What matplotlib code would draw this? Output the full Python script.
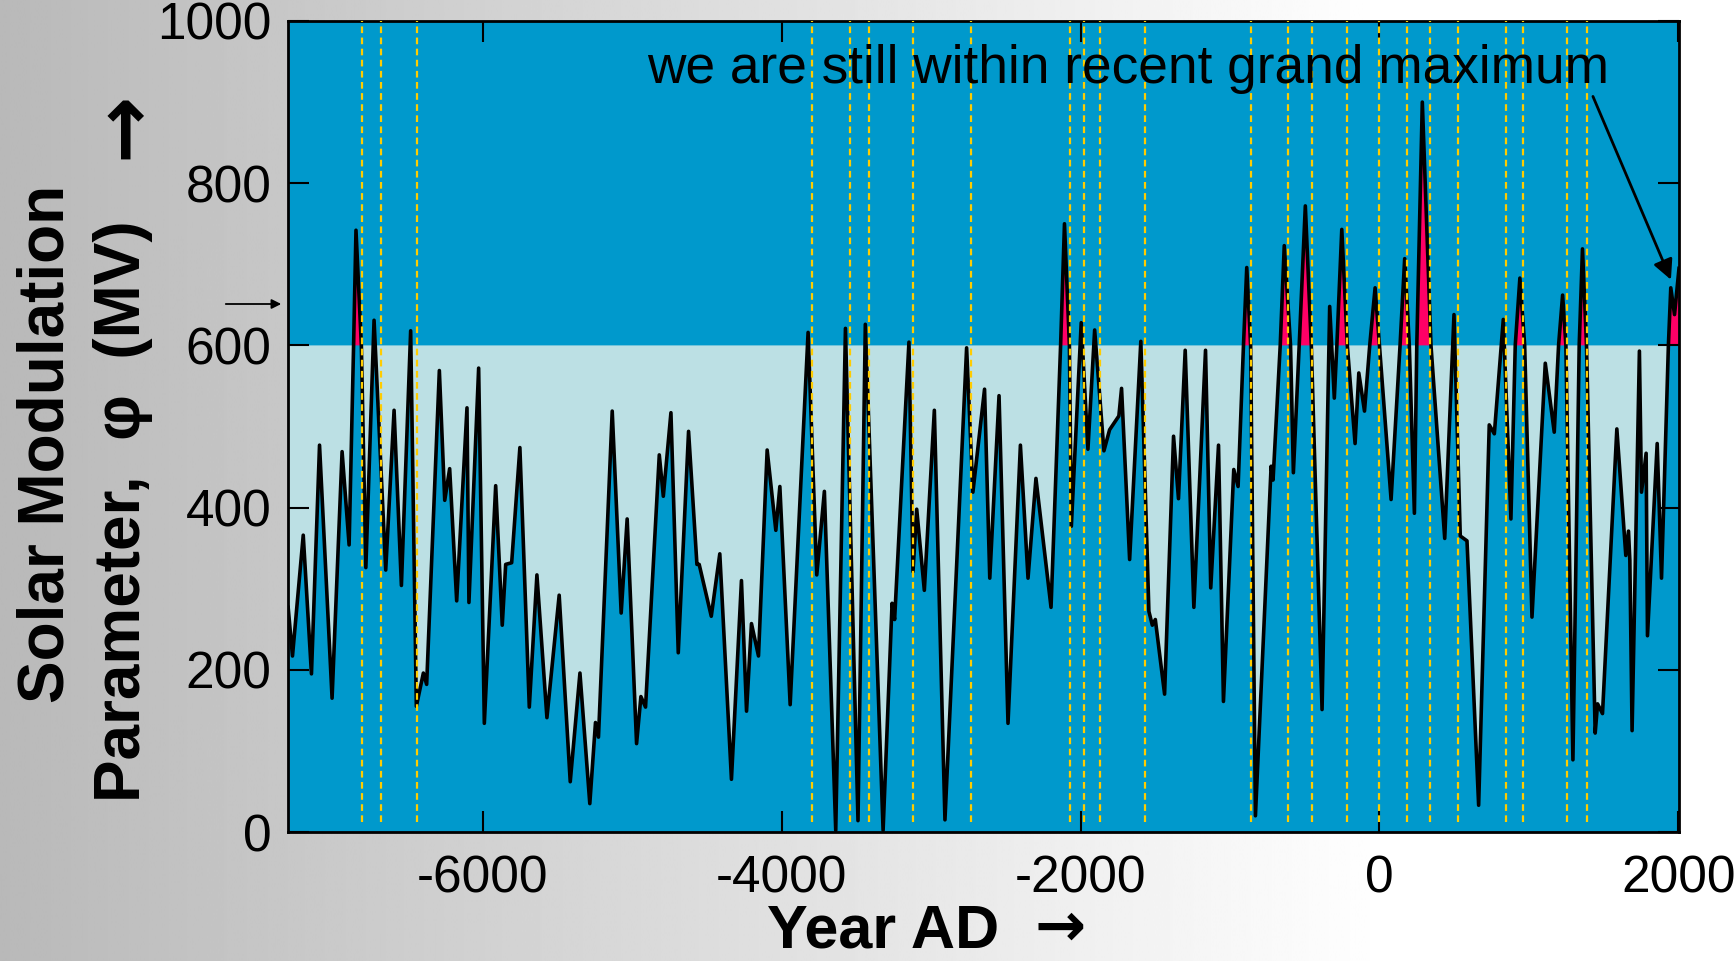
import numpy as np
import matplotlib
matplotlib.use("Agg")
import matplotlib.pyplot as plt
from matplotlib.patches import FancyArrowPatch

plt.rcParams['font.family'] = ['Liberation Sans', 'DejaVu Sans']
plt.rcParams['axes.unicode_minus'] = False

# ---- data (year AD, solar modulation phi in MV) ----
years = [
    -7304, -7275, -7203, -7148, -7094, -7010, -6943, -6896, -6866, -6850,
    -6814, -6784, -6729, -6651, -6595, -6546, -6484, -6446, -6399, -6377,
    -6292, -6256, -6223, -6176, -6107, -6094, -6029, -5991, -5915, -5871,
    -5848, -5808, -5753, -5690, -5639, -5572, -5490, -5416, -5351, -5285,
    -5247, -5227, -5135, -5075, -5035, -4972, -4943, -4912,
    -4820, -4793, -4742, -4693, -4624, -4568, -4553, -4472, -4415, -4337,
    -4270, -4236, -4203, -4156, -4098, -4040, -4013, -3944, -3824, -3766,
    -3715, -3639, -3574, -3490, -3441, -3322, -3262, -3245, -3149, -3122,
    -3097, -3046, -2979, -2908, -2763, -2721, -2643, -2608,
    -2546, -2486, -2403, -2352, -2299, -2198, -2134, -2108, -2075, -2062,
    -1996, -1951, -1906, -1844, -1806, -1744, -1726, -1672, -1597, -1543,
    -1520, -1500, -1438, -1378, -1345, -1300, -1242, -1164, -1129, -1077,
    -1044, -975, -946, -910, -888, -862, -830, -725, -712, -664,
    -637, -595, -576, -537, -496, -456, -384, -333, -302, -285,
    -252, -215,
    -163, -138, -100, -65, -29, 0, 78, 138, 169, 200,
    234, 250, 287, 345, 437, 499, 541, 586, 664, 735,
    769, 829, 880, 909, 940, 972, 1021, 1110, 1170, 1199,
    1226, 1248, 1295, 1337, 1359, 1386, 1444, 1460, 1493, 1589,
    1649, 1667, 1676, 1691, 1740, 1754, 1785, 1794, 1859, 1888,
    1934, 1950, 1975, 2005,
]
phi = [
    277, 217, 366, 195, 477, 165, 469, 354, 600, 742,
    600, 326, 631, 323, 520, 304, 618, 155, 196, 182,
    569, 409, 448, 285, 523, 283, 572, 134, 427, 255,
    330, 332, 474, 154, 317, 141, 292, 62, 196, 35,
    135, 117, 519, 270, 386, 109, 167, 154,
    465, 414, 517, 221, 494, 330, 330, 266, 343, 65,
    310, 149, 257, 217, 471, 372, 426, 157, 616, 317,
    420, 2, 621, 14, 626, 2, 282, 262, 604, 321,
    398, 298, 520, 15, 597, 419, 546, 313,
    538, 134, 477, 313, 436, 277, 600, 750, 600, 377,
    628, 472, 619, 470, 496, 513, 547, 336, 605, 272,
    255, 262, 170, 488, 411, 594, 277, 594, 301, 477,
    161, 447, 426, 600, 696, 600, 20, 451, 434, 600,
    723, 600, 443, 600, 772, 600, 151, 648, 535, 600,
    743, 600,
    479, 566, 519, 600, 671, 600, 410, 600, 707, 600,
    393, 600, 900, 600, 362, 638, 365, 359, 33, 502,
    491, 632, 386, 600, 683, 600, 265, 578, 493, 600,
    662, 600, 89, 600, 719, 600, 122, 158, 146, 497,
    341, 371, 335, 125, 593, 419, 467, 242, 479, 313,
    600, 671, 638, 695,
]
assert len(years) == len(phi)

threshold = 600
dash_years = [-6812, -6680, -6444, -3797, -3545, -3414, -3121, -2736,
              -2072, -1978, -1873, -1568, -862, -612, -454, -215, -1,
              182, 340, 527, 845, 964, 1253, 1387]
xticks = [-6000, -4000, -2000, 0, 2000]
yticks = [0, 200, 400, 600, 800, 1000]

# ---- figure ----
W, H = 1735, 961
fig = plt.figure(figsize=(W / 100, H / 100), dpi=100)

bg = fig.add_axes([0, 0, 1, 1], zorder=0)
bg.set_axis_off()
t = np.linspace(0, 1, 600)
g = np.clip(0.725 + 0.275 * t / 0.8, 0, 1)
bg.imshow(np.tile(g, (2, 1)), cmap='gray', vmin=0, vmax=1, aspect='auto',
          extent=[0, 1, 0, 1])
bg.set_xlim(0, 1)
bg.set_ylim(0, 1)

ax = fig.add_axes([288 / W, 1 - 832 / H, (1679 - 288) / W, (832 - 21) / H], zorder=1)
ax.set_facecolor('#0099CC')

x = np.array(years, dtype=float)
y = np.array(phi, dtype=float)
ax.fill_between(x, y, threshold, where=y <= threshold, interpolate=True,
                color='#BCE0E4', lw=0, zorder=1)
ax.fill_between(x, threshold, y, where=y >= threshold, interpolate=True,
                color='#FF0066', lw=0, zorder=1)
ax.plot(x, y, color='black', lw=2.6, zorder=3, solid_joinstyle='round')
ax.vlines(dash_years, 12, 1000, colors='#FFCC00', linestyles=(0, (3, 2)),
          lw=1.6, zorder=4)

ax.set_xlim(-7305, 2005)
ax.set_ylim(0, 1000)
ax.set_xticks(xticks)
ax.set_yticks(yticks)
ax.tick_params(direction='in', length=15, width=1.5, top=True, right=True,
               labelsize=37)
ax.tick_params(axis='x', pad=16)
ax.tick_params(axis='y', pad=12)
for s in ax.spines.values():
    s.set_linewidth(2)

ax.text(-4900, 924, 'we are still within recent grand maximum', fontsize=38.3,
        ha='left', va='baseline', zorder=6)
ax.annotate('', xy=(1951, 681), xytext=(1429, 907),
            arrowprops=dict(arrowstyle='-|>', color='black', lw=2,
                            mutation_scale=30, shrinkA=0, shrinkB=0),
            zorder=6)

# small arrow pointing at the axis
fig.add_artist(FancyArrowPatch(
    (223 / W, 1 - 304 / H), (284 / W, 1 - 304 / H), transform=fig.transFigure,
    arrowstyle='-|>', mutation_scale=14, lw=1.3, color='black'))

# axis labels
fig.text(64 / W, 1 - 444 / H, 'Solar Modulation', rotation=90,
         rotation_mode='anchor', ha='center', va='baseline', fontsize=46,
         fontweight='bold')
fig.text(140 / W, 1 - 511 / H, 'Parameter,  φ  (MV)', rotation=90,
         rotation_mode='anchor', ha='center', va='baseline', fontsize=46,
         fontweight='bold')
fig.text(125 / W, 1 - 125 / H, '→', rotation=90, rotation_mode='anchor',
         ha='center', va='center', fontsize=58, fontweight='bold',
         family=['DejaVu Sans'])
fig.text(767 / W, 1 - 947 / H, 'Year AD', ha='left', va='baseline',
         fontsize=44, fontweight='bold')
fig.text(1060 / W, 1 - 946 / H, '→', ha='center', va='baseline',
         fontsize=44, fontweight='bold', family=['DejaVu Sans'])

fig.savefig('out.png', dpi=100)
